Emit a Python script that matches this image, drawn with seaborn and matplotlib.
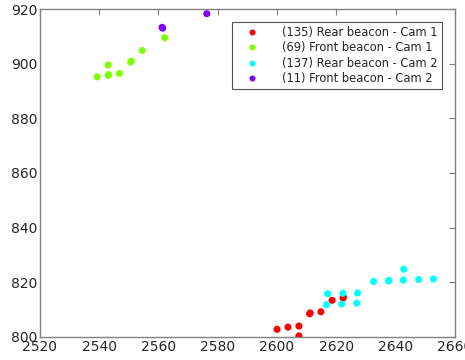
import pandas as pd
import matplotlib
matplotlib.use("Agg")
import matplotlib.pyplot as plt
import seaborn as sns

# Beacon positions
rear1_x = [2600.0, 2603.7, 2607.4, 2607.4, 2611.0, 2611.2, 2614.8, 2618.6, 2622.3, 2622.4]
rear1_y = [802.8, 803.6, 804.0, 800.4, 808.5, 808.8, 809.2, 813.4, 814.2, 814.6]

front1_x = [2539.3, 2543.0, 2543.0, 2543.2, 2546.8, 2550.6, 2550.8, 2554.5, 2562.1]
front1_y = [895.2, 899.5, 895.7, 896.0, 896.4, 900.6, 900.9, 904.8, 909.5]

rear2_x = [2617.1, 2616.7, 2622.2, 2621.8, 2627.2, 2626.9, 2632.6, 2637.6, 2637.8,
           2642.8, 2642.6, 2647.8, 2652.8]
rear2_y = [815.8, 811.8, 816.0, 812.0, 816.1, 812.4, 820.3, 820.5, 820.7,
           824.8, 820.8, 821.0, 821.2]

front2_x = [2561.2, 2561.4, 2576.3]
front2_y = [913.3, 913.0, 918.3]

labels = ["(135) Rear beacon - Cam 1", "(69) Front beacon - Cam 1",
          "(137) Rear beacon - Cam 2", "(11) Front beacon - Cam 2"]
colors = ["#ff0000", "#80ff00", "#00ffff", "#8000ff"]

frames = []
for lab, xs, ys in zip(labels, [rear1_x, front1_x, rear2_x, front2_x],
                       [rear1_y, front1_y, rear2_y, front2_y]):
    frames.append(pd.DataFrame({"x": xs, "y": ys, "series": lab}))
df = pd.concat(frames, ignore_index=True)

sns.set_style("white")
fig = plt.figure(figsize=(4.65, 3.6), dpi=100)
ax = fig.add_axes([0.086, 0.064, 0.892, 0.911])

sns.scatterplot(data=df, x="x", y="y", hue="series", hue_order=labels,
                palette=colors, s=26, linewidth=0, ax=ax)

ax.set_xlim(2520, 2660)
ax.set_ylim(800, 920)
ax.set_xticks(range(2520, 2661, 20))
ax.set_yticks(range(800, 921, 20))
ax.set_xlabel("")
ax.set_ylabel("")
ax.tick_params(direction="in", top=True, right=True, length=4, width=0.8,
               colors="#808080", labelcolor="#262626", labelsize=10, pad=2)
for sp in ax.spines.values():
    sp.set_color("#808080")
    sp.set_linewidth(1.0)

leg = ax.legend(loc="upper right", bbox_to_anchor=(0.969, 0.961), fontsize=8.3,
                frameon=True, fancybox=False, edgecolor="#262626",
                borderpad=0.35, labelspacing=0.22, handletextpad=1.2,
                handlelength=2.8, borderaxespad=0, markerscale=0.85)
leg.get_frame().set_linewidth(0.8)
for t in leg.get_texts():
    t.set_color("#262626")

fig.savefig("out.png", dpi=100)
